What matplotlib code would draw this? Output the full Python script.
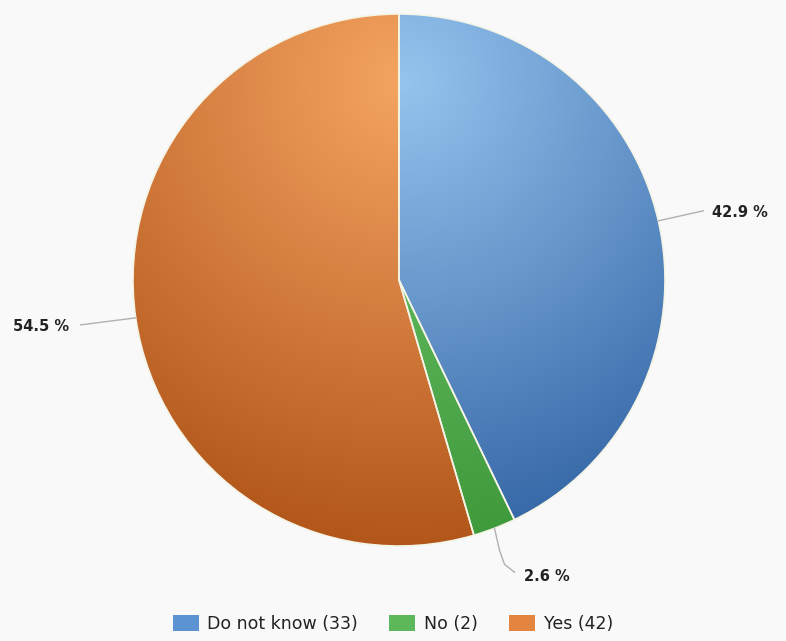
import numpy as np
import matplotlib.pyplot as plt
from matplotlib.colors import to_rgb
from matplotlib.patches import Rectangle

categories = ["Do not know", "No", "Yes"]
counts = [33, 2, 42]
light_colors = ["#95c4ee", "#72c66e", "#f5a462"]
dark_colors = ["#3566a6", "#3f9a3c", "#b2561a"]
mid_colors = ["#5b93d3", "#5cb85a", "#e3843f"]

W, H = 786, 641
fig = plt.figure(figsize=(W / 100, H / 100), dpi=100)
fig.patch.set_facecolor("#f9f9f9")
ax = fig.add_axes([0, 0, 1, 1])

cx, cy, R = 399, H - 280, 266
wedges, _ = ax.pie(counts, startangle=90, counterclock=False, center=(cx, cy),
                   radius=R, colors=mid_colors, frame=True,
                   wedgeprops=dict(edgecolor="#f4f4e6", linewidth=1.2))
ax.set_xlim(0, W)
ax.set_ylim(0, H)
ax.axis("off")

# radial gradient, highlight near the top of the pie
hx, hy = cx + 0.02 * R, cy + 0.75 * R
gx = np.linspace(cx - R, cx + R, 400)
gy = np.linspace(cy - R, cy + R, 400)
GX, GY = np.meshgrid(gx, gy)
t = np.clip(np.hypot(GX - hx, GY - hy) / (1.75 * R), 0, 1)[..., None]
for w, lc, dc in zip(wedges, light_colors, dark_colors):
    img = np.array(to_rgb(lc)) * (1 - t) + np.array(to_rgb(dc)) * t
    im = ax.imshow(img, extent=(cx - R, cx + R, cy - R, cy + R), origin="lower",
                   zorder=w.get_zorder() + 0.1, interpolation="bilinear")
    im.set_clip_path(w)
    w.set_zorder(w.get_zorder() + 0.2)
    w.set_facecolor("none")

total = sum(counts)
pcts = [100 * c / total for c in counts]

# data labels with connectors
for w, p in zip(wedges, pcts):
    ang = np.deg2rad((w.theta1 + w.theta2) / 2)
    ex, ey = cx + R * np.cos(ang), cy + R * np.sin(ang)
    lab = f"{p:.1f} %"
    if np.cos(ang) > 0.5:
        x1, y1 = ex + 45, ey + 10
        ax.plot([ex, x1], [ey, y1], color="#b0b0b0", lw=1, zorder=5)
        ax.text(x1 + 9, y1 - 2, lab, ha="left", va="center", fontsize=10.5,
                fontweight="bold", color="#222222")
    elif np.cos(ang) < -0.5:
        x1, y1 = ex - 55, ey - 7
        ax.plot([ex, x1], [ey, y1], color="#b0b0b0", lw=1, zorder=5)
        ax.text(x1 - 12, y1 - 2, lab, ha="right", va="center", fontsize=10.5,
                fontweight="bold", color="#222222")
    else:
        xs = [ex, ex + 5, ex + 10, ex + 20]
        ys = [ey, ey - 22, ey - 36, ey - 44]
        ax.plot(xs, ys, color="#b0b0b0", lw=1, zorder=5)
        ax.text(ex + 30, ey - 48, lab, ha="left", va="center", fontsize=10.5,
                fontweight="bold", color="#222222")

# legend
handles = [Rectangle((0, 0), 1, 1, facecolor=c, edgecolor="none")
           for c in mid_colors]
leg = fig.legend(handles, [f"{c} ({n})" for c, n in zip(categories, counts)],
                 loc="lower center", bbox_to_anchor=(0.5, -0.012), ncol=3,
                 frameon=False, fontsize=12.5, handlelength=1.5,
                 handleheight=1.1, columnspacing=1.8, handletextpad=0.5)
for txt in leg.get_texts():
    txt.set_color("#222222")

fig.savefig("out.png", dpi=100, facecolor=fig.get_facecolor())
